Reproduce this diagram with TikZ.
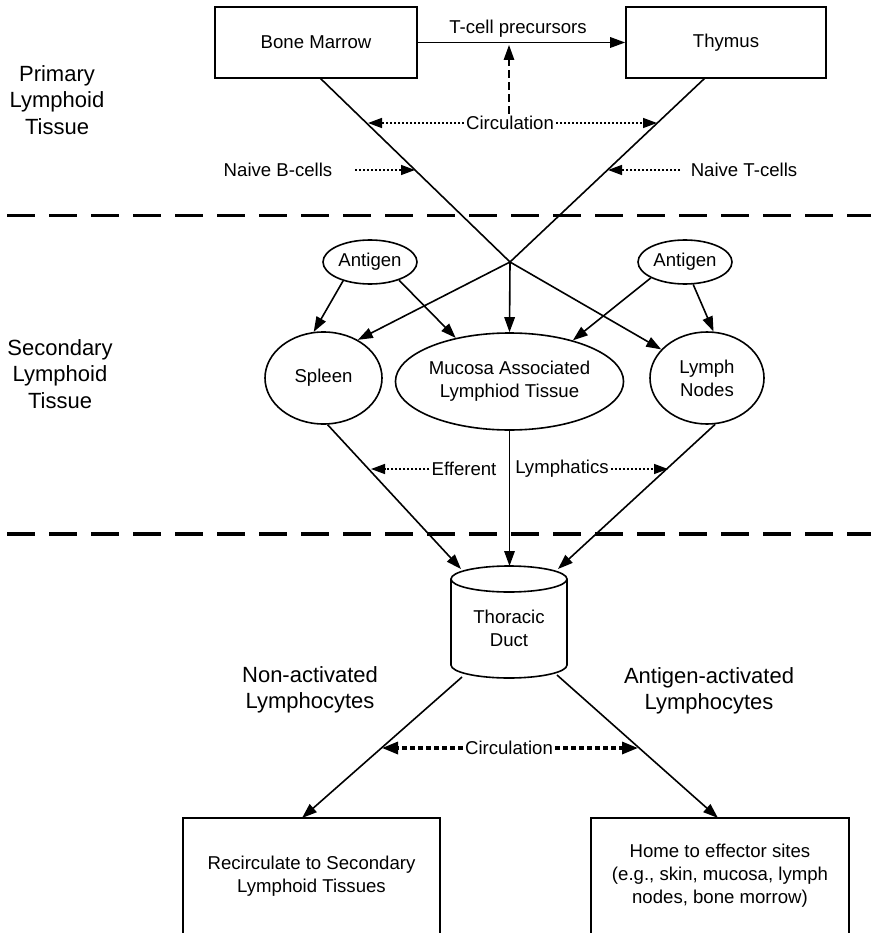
\documentclass[tikz,border=0pt]{standalone}
\usepackage{fontspec}
\setmainfont{Liberation Sans}
\usetikzlibrary{arrows.meta,shapes.geometric}
\begin{document}
\begin{tikzpicture}[x=1pt,y=-1pt,
  txt/.style={font=\fontsize{18.6}{23}\selectfont, inner sep=2pt, align=center},
  sec/.style={font=\fontsize{22}{26.5}\selectfont, inner sep=0pt, align=center},
  box/.style={txt, draw, line width=1.6pt, rectangle},
  ell/.style={txt, draw, line width=1.6pt, ellipse, inner sep=0pt},
  conn/.style={line width=1.6pt},
  arr/.style={conn, -{Triangle[length=15pt,width=10.5pt]}},
  dotarr/.style={line width=1.4pt, dash pattern=on 2pt off 2pt, -{Triangle[length=14pt,width=10pt]}},
  bigdot/.style={line width=3.2pt, dash pattern=on 5pt off 3pt, -{Triangle[length=16pt,width=12pt]}},
  dasharr/.style={line width=1.4pt, dash pattern=on 8pt off 4pt, -{Triangle[length=15pt,width=10.5pt]}},
  sep/.style={line width=3.4pt, dash pattern=on 28pt off 14pt}
]
\useasboundingbox (0,0) rectangle (871,933);

% separators
\draw[sep] (7,215.5) -- (871,215.5);
\draw[sep] (7,534) -- (871,534);

% section labels
\node[sec] (prim) at (57,100) {Primary\\Lymphoid\\Tissue};
\node[sec] (secd) at (60,374) {Secondary\\Lymphoid\\Tissue};
\node[sec] (nonact) at (310,690) {Non-activated\\Lymphocytes};
\node[sec] (agact) at (709,691) {Antigen-activated\\Lymphocytes};

% primary tissue
\node[box, minimum width=202pt, minimum height=71pt] (bm) at (316,42.5) {Bone Marrow};
\node[box, minimum width=200pt, minimum height=71pt] (thy) at (726,42.5) {Thymus};
\draw[arr] (bm) -- (thy);
\node[txt] (tcp) at (518,29) {T-cell precursors};

\node[txt] (circ1) at (510,123) {Circulation};
\coordinate (tcpt) at (509,45);
\draw[dasharr] (circ1.north -| tcpt) -- (tcpt);

\coordinate (bmo) at (320,78);
\coordinate (thyo) at (705,78);
\coordinate (J) at (510,262);
\draw[conn] (bmo) -- (J);
\draw[conn] (thyo) -- (J);

\coordinate (c1l) at (368,123);
\coordinate (c1r) at (657,123);
\draw[dotarr] (circ1.west) -- (c1l);
\draw[dotarr] (circ1.east) -- (c1r);

\node[txt] (nb) at (278,170) {Naive B-cells};
\node[txt] (nt) at (744,170) {Naive T-cells};
\coordinate (nbs) at (355,170);
\coordinate (nbt) at (415,170);
\coordinate (nts) at (680,170);
\coordinate (ntt) at (608,170);
\draw[dotarr] (nbs) -- (nbt);
\draw[dotarr] (nts) -- (ntt);

% secondary tissue
\node[ell, minimum width=94pt, minimum height=44pt] (ag1) at (370,262) {Antigen};
\node[ell, minimum width=94pt, minimum height=44pt] (ag2) at (685,262) {Antigen};
\node[ell, minimum width=117pt, minimum height=92pt] (spleen) at (323.5,378) {Spleen};
\node[ell, minimum width=212pt, minimum height=97pt] (malt) at (509.5,381.5) {Mucosa Associated\\Lymphiod Tissue};
\node[ell, minimum width=114pt, minimum height=92pt] (ln) at (707,378) {Lymph\\Nodes};

\draw[arr] (ag1.215) -- (spleen.102);
\draw[arr] (ag1.328) -- (malt.141);
\draw[arr] (J) -- (spleen.48);
\draw[arr] (J) -- (malt.north);
\draw[arr] (J) -- (ln.148);
\draw[arr] (ag2.205) -- (malt.33);
\draw[arr] (ag2.290) -- (ln.82);

% thoracic duct (cylinder)
\draw[conn] (451,579) -- (451,665) arc[start angle=180, end angle=0, x radius=58, y radius=13] -- (567,579);
\draw[conn] (509,579) ellipse [x radius=58, y radius=13];
\node[txt] (duct) at (509,628.5) {Thoracic\\Duct};
\coordinate (dL) at (461,569);
\coordinate (dT) at (509.5,566);
\coordinate (dR) at (558,569);
\coordinate (dBL) at (462,677);
\coordinate (dBR) at (557,675);

\draw[arr] (spleen.275) -- (dL);
\draw[arr] (malt.south) -- (dT);
\draw[arr] (ln.280) -- (dR);

\node[txt] (eff) at (464,469) {Efferent};
\node[txt] (lym) at (562,469) {Lymphatics};
\coordinate (effT) at (371,469);
\coordinate (lymT) at (668,469);
\draw[dotarr] (eff.west) -- (effT);
\draw[dotarr] (lym.east) -- (lymT);

% bottom boxes
\node[box, minimum width=257pt, minimum height=116pt] (lbox) at (311.5,876) {Recirculate to Secondary\\Lymphoid Tissues};
\node[box, minimum width=258pt, minimum height=116pt] (rbox) at (720,876) {Home to effector sites\\(e.g., skin, mucosa, lymph\\nodes, bone morrow)};
\coordinate (lboxT) at (302,818);
\coordinate (rboxT) at (718,818);
\draw[arr] (dBL) -- (lboxT);
\draw[arr] (dBR) -- (rboxT);

\node[txt] (circ2) at (509,748) {Circulation};
\coordinate (c2l) at (382,748);
\coordinate (c2r) at (638,748);
\draw[bigdot] (circ2.west) -- (c2l);
\draw[bigdot] (circ2.east) -- (c2r);
\end{tikzpicture}
\end{document}
